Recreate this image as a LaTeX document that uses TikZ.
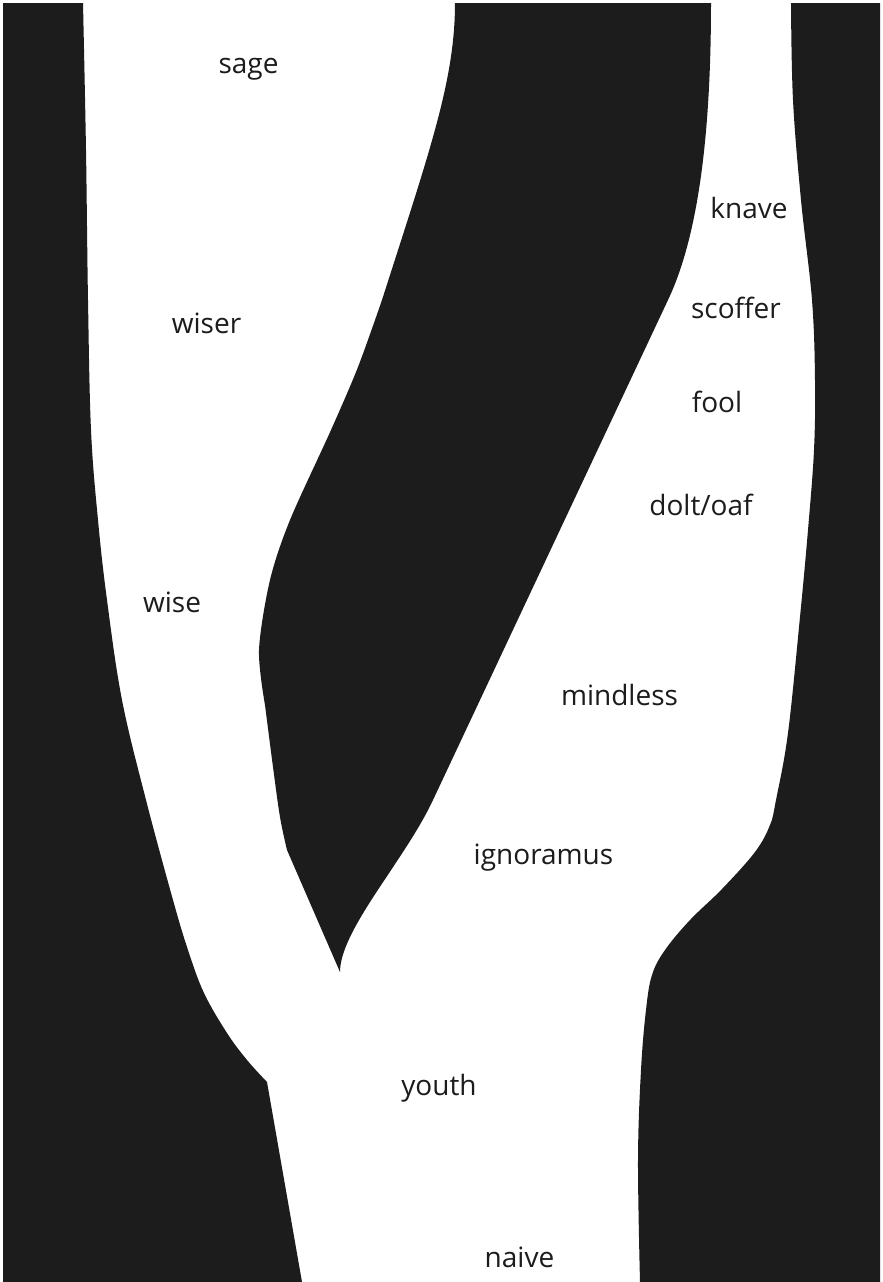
\documentclass[tikz,border=0pt]{standalone}
\usepackage{fontspec}
\setmainfont{Open Sans}
\definecolor{ink}{RGB}{28,28,28}
\begin{document}
\begin{tikzpicture}[x=0.5pt,y=-0.5pt,
  lbl/.style={anchor=base, inner sep=0pt, font=\fontsize{14pt}{16pt}\selectfont, text=ink},
  band/.style={fill=ink}]
\fill[white] (0,0) rectangle (883,1282);
\useasboundingbox (0,0) rectangle (883,1282);
% left black region
\fill[band] (3,3) -- plot[smooth, tension=0.6] coordinates {(83,3) (86,150) (88,300) (91,430) (98,520) (107,600) (122,700) (146,800) (173,900) (188,950) (204,993) (227,1033) (247,1060) (267,1082)}
  -- (302,1282) -- (3,1282) -- cycle;
% middle wedge
\fill[band] (711,3) -- (455,3) .. controls (455,80) and (430,150) .. (382,300)
  -- plot[smooth, tension=0.5] coordinates {(382,300) (358,367) (331,430) (290,520) (270,580) (259,650) (265,705)}
  -- plot[smooth, tension=0.6] coordinates {(265,705) (273,767) (280,817) (287,850)}
  -- (340,972) .. controls (340,930) and (405,860) .. (433,800)
  -- (668,300) .. controls (695,243) and (711,150) .. (711,3) -- cycle;
% right black region
\fill[band] (880,3) -- plot[smooth, tension=0.6] coordinates {(791,3) (793,100) (801,200) (812,300) (815,380) (814,450) (808,530) (800,617) (788,733) (776,800) (770,825) (755,852) (722,889) (690,920) (665,950) (652,975) (646,1010) (641,1070) (638,1160) (640,1282)}
  -- (880,1282) -- cycle;
% labels
\node[lbl] (sage) at (248.5,73) {sage};
\node[lbl] (knave) at (749,218) {knave};
\node[lbl] (scoffer) at (736,318) {scoffer};
\node[lbl] (wiser) at (206.5,333) {wiser};
\node[lbl] (fool) at (717,412) {fool};
\node[lbl] (dolt) at (701,515) {dolt/oaf};
\node[lbl] (wise) at (172,612) {wise};
\node[lbl] (mindless) at (619.5,705) {mindless};
\node[lbl] (ignoramus) at (543.5,864) {ignoramus};
\node[lbl] (youth) at (439,1095) {youth};
\node[lbl] (naive) at (519.5,1267) {naive};
\end{tikzpicture}
\end{document}
